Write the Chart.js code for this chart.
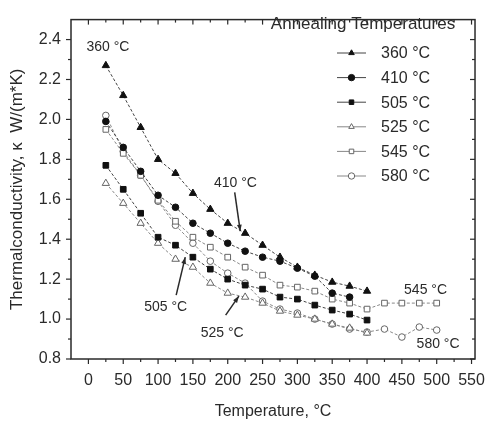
<!DOCTYPE html>
<html>
<head>
<meta charset="utf-8">
<script src="https://cdn.jsdelivr.net/npm/chart.js@4.4.1/dist/chart.umd.min.js"></script>
<style>
  html, body { margin: 0; padding: 0; background: #fff; }
  #wrap { width: 497px; height: 427px; }
</style>
</head>
<body>
<div id="wrap"><canvas id="kappaChart" width="497" height="427"></canvas></div>
<script>
// Meetwaarden
const tempsShort = [25, 50, 75, 100, 125, 150, 175, 200, 225, 250, 275, 300, 325, 350, 375, 400];
const tempsLong = [25, 50, 75, 100, 125, 150, 175, 200, 225, 250, 275, 300, 325, 350, 375, 400, 425, 450, 475, 500];

const k360 = [2.27, 2.12, 1.96, 1.80, 1.73, 1.63, 1.55, 1.48, 1.43, 1.37, 1.31, 1.26, 1.22, 1.185, 1.165, 1.14];
const k410 = [1.99, 1.86, 1.74, 1.62, 1.56, 1.48, 1.43, 1.38, 1.34, 1.31, 1.29, 1.255, 1.215, 1.13, 1.11];
const k505 = [1.77, 1.65, 1.53, 1.41, 1.37, 1.31, 1.25, 1.20, 1.17, 1.15, 1.11, 1.10, 1.07, 1.045, 1.025, 0.995];
const k525 = [1.68, 1.58, 1.48, 1.38, 1.30, 1.26, 1.18, 1.13, 1.11, 1.08, 1.04, 1.02, 1.00, 0.975, 0.955, 0.93];
const k545 = [1.95, 1.83, 1.72, 1.595, 1.49, 1.41, 1.36, 1.31, 1.26, 1.22, 1.17, 1.16, 1.14, 1.10, 1.08, 1.05, 1.08, 1.08, 1.08, 1.08];
const k580 = [2.02, 1.84, 1.72, 1.59, 1.47, 1.38, 1.29, 1.23, 1.18, 1.09, 1.05, 1.03, 1.00, 0.975, 0.95, 0.935, 0.95, 0.91, 0.96, 0.945];

const seriesLabels = ['360 °C', '410 °C', '505 °C', '525 °C', '545 °C', '580 °C'];
const seriesValues = [k360, k410, k505, k525, k545, k580];
const seriesTemps = [tempsShort, tempsShort, tempsShort, tempsShort, tempsLong, tempsLong];

const xTicks = [0, 50, 100, 150, 200, 250, 300, 350, 400, 450, 500, 550];
const yTicks = [0.8, 1.0, 1.2, 1.4, 1.6, 1.8, 2.0, 2.2, 2.4];

// Stijl per reeks
const pointStyles = ['triangle', 'circle', 'rect', 'triangle', 'rect', 'circle'];
const pointSizes = [4.2, 3.3, 4, 4.2, 4, 3.3];
const filled = [true, true, true, false, false, false];

const FONT = 'Arial, "Liberation Sans", sans-serif';
const INK = '#2a2a2a';

// Annotaties bij de curves (in data-coordinaten)
const notes = [
  { text: '360 °C', x: 28, y: 2.36 },
  { text: '410 °C', x: 211, y: 1.68, from: [210, 1.635], to: [218, 1.44] },
  { text: '505 °C', x: 111, y: 1.06, from: [126, 1.12], to: [139, 1.31] },
  { text: '525 °C', x: 192, y: 0.93, from: [197, 1.02], to: [216, 1.115] },
  { text: '545 °C', x: 484, y: 1.145 },
  { text: '580 °C', x: 502, y: 0.872 }
];

function line(ctx, x1, y1, x2, y2) {
  ctx.beginPath();
  ctx.moveTo(x1, y1);
  ctx.lineTo(x2, y2);
  ctx.stroke();
}

// Kader, tick marks, legenda en annotaties
const framePlugin = {
  id: 'frame',
  afterDraw(chart) {
    const { ctx, chartArea: a } = chart;
    const xs = chart.scales.x;
    const ys = chart.scales.y;
    ctx.save();
    ctx.strokeStyle = INK;
    ctx.lineWidth = 1.5;
    ctx.strokeRect(a.left, a.top, a.right - a.left, a.bottom - a.top);

    ctx.lineWidth = 1.2;
    xTicks.forEach(v => {
      const px = xs.getPixelForValue(v);
      line(ctx, px, a.bottom, px, a.bottom + 5);
      line(ctx, px, a.top, px, a.top + 5);
      const m = v + 25;
      if (m < xs.max) {
        const pm = xs.getPixelForValue(m);
        line(ctx, pm, a.bottom, pm, a.bottom + 3);
        line(ctx, pm, a.top, pm, a.top + 3);
      }
    });
    yTicks.forEach(v => {
      const py = ys.getPixelForValue(v);
      line(ctx, a.left - 5, py, a.left, py);
      line(ctx, a.right - 5, py, a.right, py);
      const m = v + 0.1;
      if (m < ys.max) {
        const pm = ys.getPixelForValue(m);
        line(ctx, a.left - 3, pm, a.left, pm);
        line(ctx, a.right - 3, pm, a.right, pm);
      }
    });

    // legenda
    ctx.fillStyle = INK;
    ctx.textBaseline = 'middle';
    ctx.textAlign = 'center';
    ctx.font = '17px ' + FONT;
    ctx.fillText('Annealing Temperatures', 363, 24);
    ctx.font = '16px ' + FONT;
    ctx.textAlign = 'left';
    chart.data.datasets.forEach((ds, i) => {
      const ry = 53 + i * 24.6;
      ctx.save();
      ctx.strokeStyle = ds.borderColor;
      ctx.lineWidth = 1;
      line(ctx, 337, ry, 366, ry);
      ctx.fillStyle = ds.pointBackgroundColor;
      ctx.strokeStyle = ds.pointBorderColor;
      ctx.lineWidth = 1;
      Chart.helpers.drawPoint(ctx, { pointStyle: ds.pointStyle, radius: 3.2, borderWidth: 1, rotation: 0 }, 351.5, ry);
      ctx.restore();
      ctx.fillText(ds.label, 381, ry + 1);
    });

    // annotaties met pijlen
    ctx.font = '14px ' + FONT;
    ctx.textAlign = 'center';
    notes.forEach(n => {
      ctx.fillText(n.text, xs.getPixelForValue(n.x), ys.getPixelForValue(n.y));
      if (n.from) {
        const x1 = xs.getPixelForValue(n.from[0]), y1 = ys.getPixelForValue(n.from[1]);
        const x2 = xs.getPixelForValue(n.to[0]), y2 = ys.getPixelForValue(n.to[1]);
        ctx.lineWidth = 1.5;
        line(ctx, x1, y1, x2, y2);
        const ang = Math.atan2(y2 - y1, x2 - x1);
        ctx.beginPath();
        ctx.moveTo(x2, y2);
        ctx.lineTo(x2 - 7 * Math.cos(ang - 0.35), y2 - 7 * Math.sin(ang - 0.35));
        ctx.lineTo(x2 - 7 * Math.cos(ang + 0.35), y2 - 7 * Math.sin(ang + 0.35));
        ctx.closePath();
        ctx.fill();
      }
    });
    ctx.restore();
  }
};

const ctx = document.getElementById('kappaChart').getContext('2d');
new Chart(ctx, {
  type: 'scatter',
  data: {
    datasets: seriesLabels.map((label, i) => ({
      label,
      data: seriesValues[i].map((k, j) => ({ x: seriesTemps[i][j], y: k })),
      showLine: true,
      borderColor: filled[i] ? '#444' : '#888',
      borderWidth: 1,
      borderDash: [3, 2],
      pointStyle: pointStyles[i],
      pointRadius: pointSizes[i],
      pointBackgroundColor: filled[i] ? '#111' : '#fff',
      pointBorderColor: filled[i] ? '#111' : '#666',
      pointBorderWidth: 1
    }))
  },
  options: {
    responsive: false,
    animation: false,
    events: [],
    layout: { padding: { top: 8, right: 14, left: 0, bottom: 0 } },
    plugins: { legend: { display: false }, tooltip: { enabled: false } },
    scales: {
      x: {
        type: 'linear',
        min: -25,
        max: 555,
        afterBuildTicks: s => { s.ticks = xTicks.map(v => ({ value: v })); },
        afterFit: s => { s.height = 68; },
        grid: { display: false, drawTicks: false },
        border: { display: false },
        ticks: { font: { size: 16, family: FONT }, color: INK, padding: 12, maxRotation: 0, autoSkip: false },
        title: { display: true, text: 'Temperature, °C', font: { size: 16, family: FONT }, color: INK, padding: { top: 0, bottom: 6 } }
      },
      y: {
        type: 'linear',
        min: 0.8,
        max: 2.5,
        afterBuildTicks: s => { s.ticks = yTicks.map(v => ({ value: v })); },
        afterFit: s => { s.width = 71; },
        grid: { display: false, drawTicks: false },
        border: { display: false },
        ticks: { font: { size: 16, family: FONT }, color: INK, padding: 10, callback: v => v.toFixed(1) },
        title: { display: true, text: 'Thermalconductivity, κ  W/(m*K)', font: { size: 17, family: FONT }, color: INK, padding: { top: 7, bottom: 0 } }
      }
    }
  },
  plugins: [framePlugin]
});
</script>
</body>
</html>
